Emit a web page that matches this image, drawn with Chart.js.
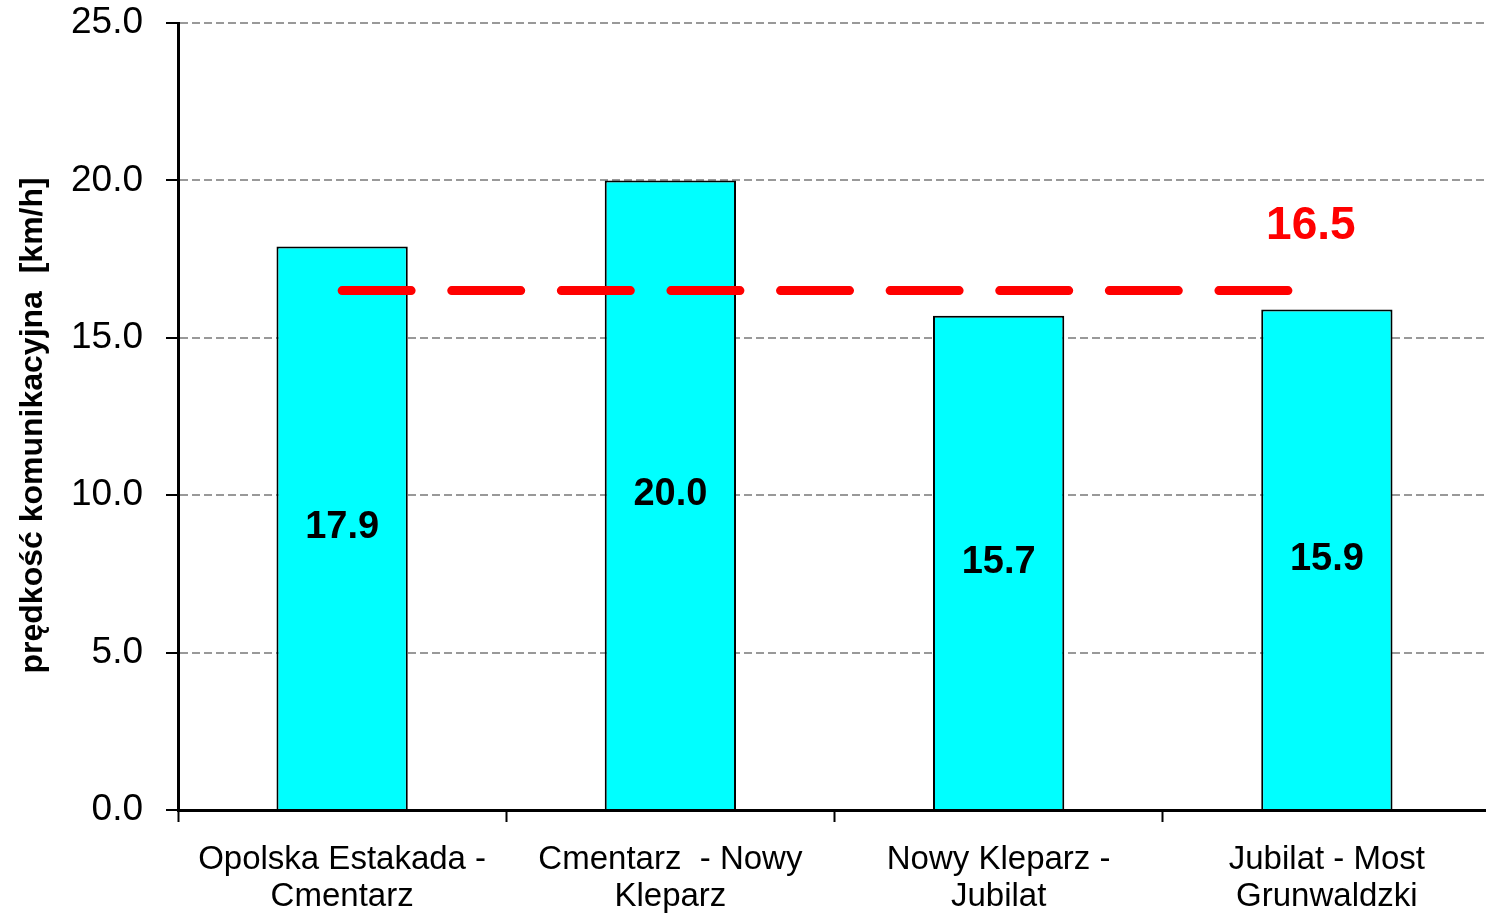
<!DOCTYPE html>
<html>
<head>
<meta charset="utf-8">
<script src="https://cdn.jsdelivr.net/npm/chart.js@4/dist/chart.umd.min.js"></script>
<style>
  html, body { margin: 0; padding: 0; overflow: hidden; background: #fff; }
  canvas { display: block; }
</style>
</head>
<body>
<canvas id="speedChart" width="1491" height="915"></canvas>
<script>
// odcinki trasy i średnia prędkość komunikacyjna na każdym z nich
const segments = [
    ['Opolska Estakada -', 'Cmentarz'],
    ['Cmentarz  - Nowy', 'Kleparz'],
    ['Nowy Kleparz -', 'Jubilat'],
    ['Jubilat - Most', 'Grunwaldzki']
];
const speeds = [17.9, 20.0, 15.7, 15.9];
const averageSpeed = 16.5;
const yMin = 0;
const yMax = 25;
const yStep = 5;

const FONT = '"Liberation Sans", Arial, sans-serif';

// numbers in the middle of each bar + the red average label
const labelsPlugin = {
    id: 'valueLabels',
    afterDatasetsDraw(chart) {
        const ctx = chart.ctx;
        const barMeta = chart.getDatasetMeta(0);
        ctx.save();
        ctx.textAlign = 'center';
        ctx.textBaseline = 'middle';
        ctx.font = 'bold 38px ' + FONT;
        ctx.fillStyle = '#000';
        barMeta.data.forEach((bar, i) => {
            ctx.fillText(speeds[i].toFixed(1), bar.x, (bar.y + bar.base) / 2);
        });

        const lineMeta = chart.getDatasetMeta(1);
        const last = lineMeta.data[lineMeta.data.length - 1];
        ctx.font = 'bold 46px ' + FONT;
        ctx.fillStyle = '#ff0000';
        ctx.fillText(averageSpeed.toFixed(1), last.x - 16, last.y - 64);
        ctx.restore();
    }
};

new Chart(document.getElementById('speedChart'), {
    type: 'bar',
    data: {
        labels: segments,
        datasets: [
            {
                type: 'bar',
                data: speeds,
                backgroundColor: '#00ffff',
                borderColor: '#000',
                borderWidth: 2,
                barPercentage: 0.4,
                categoryPercentage: 1.0,
                order: 2
            },
            {
                type: 'line',
                data: segments.map(() => averageSpeed),
                borderColor: '#ff0000',
                borderWidth: 9,
                borderDash: [69, 40.6],
                borderCapStyle: 'round',
                pointRadius: 0,
                fill: false,
                order: 1
            }
        ]
    },
    options: {
        responsive: false,
        animation: false,
        layout: { padding: { top: 23, right: 0, left: 0, bottom: 0 } },
        plugins: {
            legend: { display: false },
            tooltip: { enabled: false }
        },
        scales: {
            x: {
                afterFit(scale) { scale.height = 105; },
                border: { color: '#000', width: 3 },
                grid: {
                    drawOnChartArea: false,
                    tickLength: 12,
                    tickColor: '#000',
                    tickWidth: 2
                },
                ticks: {
                    color: '#000',
                    padding: 20,
                    maxRotation: 0,
                    font: { family: FONT, size: 33, lineHeight: 1.1 }
                }
            },
            y: {
                min: yMin,
                max: yMax,
                afterFit(scale) {
                    scale.width = 178;
                    // top label may overhang the plot, no extra room needed
                    scale.paddingTop = 0;
                    scale.paddingBottom = 0;
                },
                border: { color: '#000', width: 3, dash: [8, 4] },
                grid: {
                    color: '#999999',
                    lineWidth: 2,
                    tickLength: 12,
                    tickColor: '#000',
                    tickWidth: 2,
                    tickBorderDash: []
                },
                ticks: {
                    stepSize: yStep,
                    color: '#000',
                    padding: 23,
                    font: { family: FONT, size: 37 },
                    callback: (v) => v.toFixed(1)
                },
                title: {
                    display: true,
                    text: 'prędkość komunikacyjna  [km/h]  ',
                    color: '#000',
                    padding: { top: 14, bottom: 0 },
                    font: { family: FONT, size: 32, weight: 'bold' }
                }
            }
        }
    },
    plugins: [labelsPlugin]
});
</script>
</body>
</html>
